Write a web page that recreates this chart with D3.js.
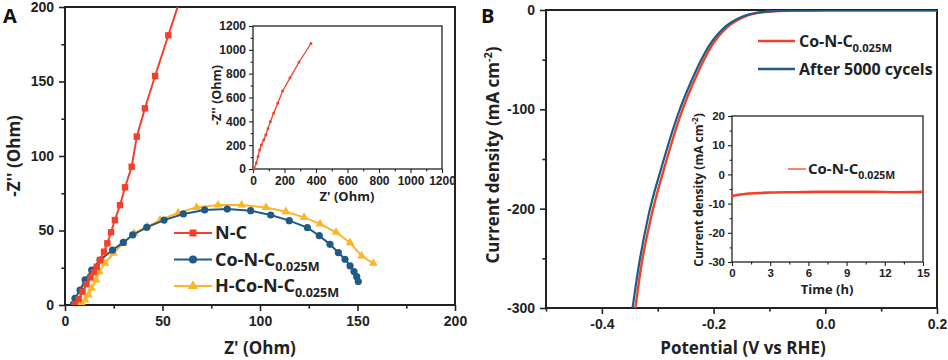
<!DOCTYPE html>
<html>
<head>
<meta charset="utf-8">
<script src="https://cdn.jsdelivr.net/npm/d3@7"></script>
<style>
  body { margin: 0; background: #fff; }
  svg { font-family: "Open Sans", "DejaVu Sans", sans-serif; font-weight: 700; }
  .axis path, .axis line { stroke: #222; }
  .axis text { fill: #222; font-weight: 700; }
</style>
</head>
<body>
<div id="chart"></div>
<script>
// ---- panel A : Nyquist plots ----
var ncZ  = [5, 7, 9, 11, 13, 14.8, 16.3, 17.9, 20, 21.7, 23.6, 25.6, 28.2, 30.8, 34.2, 36.8, 41, 46.2, 53, 60];
var ncZZ = [0.5, 4, 9, 14, 18.5, 22, 25.7, 30.2, 35.8, 41.4, 48.8, 57, 67, 79, 92.8, 113, 132, 153.7, 181, 209];

var coZ  = [4.3, 5.1, 7.7, 10.3, 13.7, 18, 24.4, 29.9, 34.7, 41.9, 50.8, 60.7, 71.6, 83.2, 95.2, 105.5, 115, 124.3, 130.4, 135.9, 140.2, 143.6, 146.2, 148.2, 149.6, 150.4];
var coZZ = [0.5, 4.5, 10, 16.8, 23.5, 30.2, 36.9, 42, 47, 52.1, 57, 61.1, 63.8, 64.4, 63.3, 60.4, 56.6, 51.9, 46.5, 40.7, 35.1, 30.7, 26.2, 22.4, 19.0, 15.7];

var hZ  = [6.8, 8.6, 10.3, 12, 13.7, 15.9, 17.6, 20.5, 24.8, 29.9, 35.4, 42.2, 48.7, 58.1, 67.5, 78.5, 90.6, 103.1, 113.3, 122.6, 130.8, 139, 146.2, 152.1, 158.1];
var hZZ = [0.5, 1.1, 3.4, 6.7, 11.2, 16.8, 22.4, 28, 34.7, 41.4, 48.1, 52.6, 57, 61.9, 65.5, 67.1, 67.1, 65.5, 62.6, 58.8, 54.4, 48.8, 41.8, 32.9, 28];

var insetZ  = [8, 21, 32, 42, 53, 68, 81, 95, 110, 131, 157, 188, 235, 292, 368];
var insetZZ = [0, 50, 104, 160, 201, 244, 286, 339, 397, 468, 552, 655, 765, 896, 1053];

var aTicks = [0, 50, 100, 150, 200];
var insetTicks = [0, 200, 400, 600, 800, 1000, 1200];

// ---- panel B : polarization + stability ----
var lsvRedV  = [-0.340, -0.3295, -0.3116, -0.2877, -0.258, -0.234, -0.2043, -0.1744, -0.1445, -0.1029, -0.06, 0, 0.1, 0.2];
var lsvRedJ  = [-300, -258, -208, -158, -104, -70.5, -36.9, -16.8, -6.7, -1.7, -0.6, -0.4, -0.3, -0.3];
var lsvBlueV = [-0.345, -0.334, -0.317, -0.293, -0.263, -0.239, -0.209, -0.179, -0.149, -0.107, -0.064, 0, 0.1, 0.2];
var lsvBlueJ = [-300, -258, -208, -158, -104, -70.5, -36.9, -16.8, -6.7, -1.7, -0.6, -0.4, -0.3, -0.3];

var bxTicks = [-0.4, -0.2, 0.0, 0.2];
var byTicks = [0, -100, -200, -300];

var stabT = [0, 0.2, 0.5, 1, 2, 3, 5, 7, 9, 11, 13, 15];
var stabJ = [-7.5, -7.2, -7.0, -6.7, -6.4, -6.2, -6.1, -6.0, -6.0, -6.0, -6.1, -6.0];
var stabXTicks = [0, 3, 6, 9, 12, 15];
var stabYTicks = [20, 10, 0, -10, -20, -30];

var RED = "#f2402a", BLUE = "#1f5b86", ORANGE = "#fbb526";

var svg = d3.select("#chart").append("svg")
    .attr("width", 948).attr("height", 360);

function zip(a, b) { return a.map(function(v, i) { return [v, b[i]]; }); }

function frame(g, x0, y0, x1, y1, w) {
    g.append("rect").attr("x", x0).attr("y", y0)
        .attr("width", x1 - x0).attr("height", y1 - y0)
        .attr("fill", "none").attr("stroke", "#222").attr("stroke-width", w);
}

function drawAxes(g, x, y, o) {
    var yb = y.range()[0], xl = x.range()[0];
    var xa = g.append("g").attr("class", "axis").attr("transform", "translate(0," + yb + ")")
        .call(d3.axisBottom(x).tickValues(o.xTicks).tickSize(o.tick).tickPadding(o.pad).tickFormat(o.xFmt || d3.format("")));
    xa.select(".domain").remove();
    xa.selectAll("line").attr("stroke-width", o.sw);
    xa.selectAll("text").style("font-size", o.fs + "px");
    var xm = g.append("g").attr("class", "axis").attr("transform", "translate(0," + yb + ")")
        .call(d3.axisBottom(x).tickValues(o.xMinor).tickSize(o.tick * 0.6).tickFormat(""));
    xm.select(".domain").remove();
    xm.selectAll("line").attr("stroke-width", o.sw);

    var ya = g.append("g").attr("class", "axis").attr("transform", "translate(" + xl + ",0)")
        .call(d3.axisLeft(y).tickValues(o.yTicks).tickSize(o.tick).tickPadding(o.pad).tickFormat(o.yFmt || d3.format("")));
    ya.select(".domain").remove();
    ya.selectAll("line").attr("stroke-width", o.sw);
    ya.selectAll("text").style("font-size", o.fs + "px");
    var ym = g.append("g").attr("class", "axis").attr("transform", "translate(" + xl + ",0)")
        .call(d3.axisLeft(y).tickValues(o.yMinor).tickSize(o.tick * 0.6).tickFormat(""));
    ym.select(".domain").remove();
    ym.selectAll("line").attr("stroke-width", o.sw);
}

function subLabel(g, x, y, main, sub, fs) {
    var t = g.append("text").attr("x", x).attr("y", y).style("font-size", fs + "px").attr("fill", "#222");
    t.append("tspan").text(main);
    t.append("tspan").attr("dy", fs * 0.3).style("font-size", (fs * 0.7) + "px").text(sub);
    return t;
}

var defs = svg.append("defs");

// ================= Panel A =================
var xA = d3.scaleLinear().domain([0, 200]).range([65, 455]);
var yA = d3.scaleLinear().domain([0, 200]).range([305, 7]);
defs.append("clipPath").attr("id", "clipA").append("rect")
    .attr("x", 65).attr("y", 7).attr("width", 390).attr("height", 298);

var gA = svg.append("g");
drawAxes(gA, xA, yA, {xTicks: aTicks, yTicks: aTicks, xMinor: [25, 75, 125, 175], yMinor: [25, 75, 125, 175],
    tick: 6, pad: 5, fs: 14, sw: 1.6});
frame(gA, 65, 7, 455, 305, 2);

var lineA = d3.line().x(function(d) { return xA(d[0]); }).y(function(d) { return yA(d[1]); });
var plotA = gA.append("g").attr("clip-path", "url(#clipA)");

var coData = zip(coZ, coZZ), hData = zip(hZ, hZZ), ncData = zip(ncZ, ncZZ);

plotA.append("path").datum(hData).attr("d", lineA).attr("fill", "none").attr("stroke", ORANGE).attr("stroke-width", 2);
plotA.selectAll(".hpt").data(hData).enter().append("path").attr("class", "hpt")
    .attr("transform", function(d) { return "translate(" + xA(d[0]) + "," + yA(d[1]) + ")"; })
    .attr("d", d3.symbol(d3.symbolTriangle, 34)).attr("fill", ORANGE);

plotA.append("path").datum(coData).attr("d", lineA).attr("fill", "none").attr("stroke", BLUE).attr("stroke-width", 2);
plotA.selectAll(".cpt").data(coData).enter().append("circle").attr("class", "cpt")
    .attr("cx", function(d) { return xA(d[0]); }).attr("cy", function(d) { return yA(d[1]); })
    .attr("r", 3.6).attr("fill", BLUE);

plotA.append("path").datum(ncData).attr("d", lineA).attr("fill", "none").attr("stroke", RED).attr("stroke-width", 2);
plotA.selectAll(".npt").data(ncData).enter().append("rect").attr("class", "npt")
    .attr("x", function(d) { return xA(d[0]) - 3.2; }).attr("y", function(d) { return yA(d[1]) - 3.2; })
    .attr("width", 6.4).attr("height", 6.4).attr("fill", RED);

// axis titles A
gA.append("text").attr("x", 260).attr("y", 354).attr("text-anchor", "middle")
    .style("font-size", "17px").attr("fill", "#222").text("Z' (Ohm)");
gA.append("text").attr("transform", "translate(20,156) rotate(-90)").attr("text-anchor", "middle")
    .style("font-size", "17px").attr("fill", "#222").text("-Z'' (Ohm)");
gA.append("text").attr("x", 3).attr("y", 23).style("font-size", "20px").attr("fill", "#111").text("A");

// legend A
var legA = [
    {name: "N-C", sub: "", color: RED, shape: "square"},
    {name: "Co-N-C", sub: "0.025M", color: BLUE, shape: "circle"},
    {name: "H-Co-N-C", sub: "0.025M", color: ORANGE, shape: "triangle"}
];
legA.forEach(function(d, i) {
    var ly = 233 + i * 26.5;
    gA.append("line").attr("x1", 174).attr("x2", 212).attr("y1", ly).attr("y2", ly)
        .attr("stroke", d.color).attr("stroke-width", 2.2);
    if (d.shape === "square") {
        gA.append("rect").attr("x", 189.5).attr("y", ly - 3.5).attr("width", 7).attr("height", 7).attr("fill", d.color);
    } else if (d.shape === "circle") {
        gA.append("circle").attr("cx", 193).attr("cy", ly).attr("r", 4).attr("fill", d.color);
    } else {
        gA.append("path").attr("transform", "translate(193," + ly + ")")
            .attr("d", d3.symbol(d3.symbolTriangle, 44)).attr("fill", d.color);
    }
    subLabel(gA, 215, ly + 6, d.name, d.sub, 18);
});

// inset A
var xI = d3.scaleLinear().domain([0, 1200]).range([253, 442]);
var yI = d3.scaleLinear().domain([0, 1200]).range([169, 26]);
var gI = svg.append("g");
gI.append("rect").attr("x", 253).attr("y", 26).attr("width", 189).attr("height", 143).attr("fill", "#fff");
drawAxes(gI, xI, yI, {xTicks: insetTicks, yTicks: insetTicks, xMinor: [100, 300, 500, 700, 900, 1100], yMinor: [100, 300, 500, 700, 900, 1100],
    tick: 4, pad: 3, fs: 12, sw: 1.1});
frame(gI, 253, 26, 442, 169, 1.3);
var insetData = zip(insetZ, insetZZ);
var lineI = d3.line().x(function(d) { return xI(d[0]); }).y(function(d) { return yI(d[1]); });
gI.append("path").datum(insetData).attr("d", lineI).attr("fill", "none").attr("stroke", RED).attr("stroke-width", 1.3);
gI.selectAll(".ipt").data(insetData).enter().append("rect")
    .attr("x", function(d) { return xI(d[0]) - 1.3; }).attr("y", function(d) { return yI(d[1]) - 1.3; })
    .attr("width", 2.6).attr("height", 2.6).attr("fill", RED);
gI.append("text").attr("x", 347).attr("y", 201).attr("text-anchor", "middle")
    .style("font-size", "13px").attr("fill", "#222").text("Z' (Ohm)");
gI.append("text").attr("transform", "translate(221,95) rotate(-90)").attr("text-anchor", "middle")
    .style("font-size", "12.5px").attr("fill", "#222").text("-Z'' (Ohm)");

// ================= Panel B =================
var xB = d3.scaleLinear().domain([-0.5, 0.2]).range([546, 937]);
var yB = d3.scaleLinear().domain([-300, 0]).range([308, 10]);
defs.append("clipPath").attr("id", "clipB").append("rect")
    .attr("x", 546).attr("y", 10).attr("width", 391).attr("height", 298);

var gB = svg.append("g");
drawAxes(gB, xB, yB, {xTicks: bxTicks, yTicks: byTicks, xMinor: [-0.5, -0.3, -0.1, 0.1], yMinor: [-50, -150, -250],
    tick: 6, pad: 5, fs: 14, sw: 1.6, xFmt: d3.format(".1f"), yFmt: d3.format("d")});
gB.selectAll(".tick text").text(function() { return this.textContent.replace("\u2212", "-"); });
frame(gB, 546, 10, 937, 308, 2);

var lineB = d3.line().x(function(d) { return xB(d[0]); }).y(function(d) { return yB(d[1]); }).curve(d3.curveMonotoneX);
var plotB = gB.append("g").attr("clip-path", "url(#clipB)");
plotB.append("path").datum(zip(lsvRedV, lsvRedJ)).attr("d", lineB).attr("fill", "none").attr("stroke", RED).attr("stroke-width", 2.4);
plotB.append("path").datum(zip(lsvBlueV, lsvBlueJ)).attr("d", lineB).attr("fill", "none").attr("stroke", BLUE).attr("stroke-width", 2.2);

gB.append("text").attr("x", 743).attr("y", 354).attr("text-anchor", "middle")
    .style("font-size", "17px").attr("fill", "#222").text("Potential (V vs RHE)");
var yTitleB = gB.append("text").attr("transform", "translate(499,155) rotate(-90)").attr("text-anchor", "middle")
    .style("font-size", "17px").attr("fill", "#222");
yTitleB.append("tspan").text("Current density (mA cm");
yTitleB.append("tspan").attr("dy", -7).style("font-size", "11px").text("-2");
yTitleB.append("tspan").attr("dy", 7).text(")");
gB.append("text").attr("x", 481).attr("y", 23).style("font-size", "20px").attr("fill", "#111").text("B");

// legend B
[{name: "Co-N-C", sub: "0.025M", color: RED}, {name: "After 5000 cycels", sub: "", color: BLUE}].forEach(function(d, i) {
    var ly = 41 + i * 28;
    gB.append("line").attr("x1", 758).attr("x2", 795).attr("y1", ly).attr("y2", ly)
        .attr("stroke", d.color).attr("stroke-width", 2.4);
    subLabel(gB, 799, ly + 6, d.name, d.sub, 16);
});

// inset B
var xS = d3.scaleLinear().domain([0, 15]).range([732, 923]);
var yS = d3.scaleLinear().domain([-30, 20]).range([262, 116]);
var gS = svg.append("g");
gS.append("rect").attr("x", 732).attr("y", 116).attr("width", 191).attr("height", 146).attr("fill", "#fff");
drawAxes(gS, xS, yS, {xTicks: stabXTicks, yTicks: stabYTicks, xMinor: [1.5, 4.5, 7.5, 10.5, 13.5], yMinor: [15, 5, -5, -15, -25],
    tick: 4, pad: 3, fs: 11.5, sw: 1.1, yFmt: d3.format("d")});
gS.selectAll(".tick text").text(function() { return this.textContent.replace("\u2212", "-"); });
frame(gS, 732, 116, 923, 262, 1.3);
var lineS = d3.line().x(function(d) { return xS(d[0]); }).y(function(d) { return yS(d[1]); }).curve(d3.curveMonotoneX);
gS.append("path").datum(zip(stabT, stabJ)).attr("d", lineS).attr("fill", "none").attr("stroke", RED).attr("stroke-width", 2.6);
gS.append("line").attr("x1", 788).attr("x2", 806).attr("y1", 169).attr("y2", 169).attr("stroke", "#f26a4a").attr("stroke-width", 1.6);
subLabel(gS, 808, 174, "Co-N-C", "0.025M", 15);
gS.append("text").attr("x", 827).attr("y", 294).attr("text-anchor", "middle")
    .style("font-size", "13px").attr("fill", "#222").text("Time (h)");
var yTitleS = gS.append("text").attr("transform", "translate(703,190) rotate(-90)").attr("text-anchor", "middle")
    .style("font-size", "12px").attr("fill", "#222");
yTitleS.append("tspan").text("Current density (mA cm");
yTitleS.append("tspan").attr("dy", -5).style("font-size", "8px").text("-2");
yTitleS.append("tspan").attr("dy", 5).text(")");
</script>
</body>
</html>
